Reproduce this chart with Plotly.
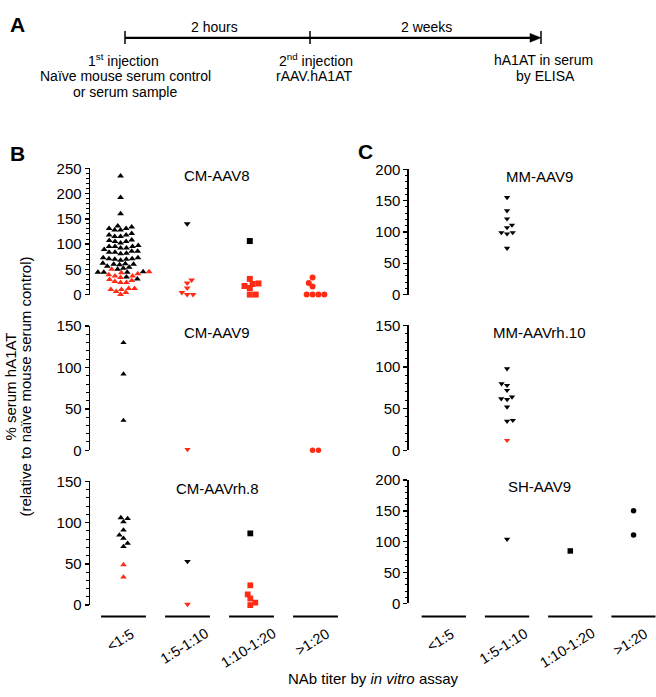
import numpy as np
import plotly.graph_objects as go

# ---------------- data ----------------
CATEGORIES = ["<1:5", "1:5-1:10", "1:10-1:20", ">1:20"]

CM_AAV8_BLACK = [
    [235, 192, 160, 136, 134, 131, 131, 128, 128, 121, 118, 118, 115, 115,
     108, 107, 105, 105, 102, 97, 95, 95, 95, 92, 92, 89, 86, 86, 84, 84, 82, 81,
     73, 73, 71, 71, 70, 70, 68, 62, 61, 60, 60, 59, 56, 54, 52, 50, 45, 44, 44,
     44, 35, 31],
    [140], [106], []]
CM_AAV8_RED = [
    [50, 45, 43, 41, 39, 37, 37, 34, 30, 28, 26, 24, 24, 12, 12, 10, 10, 6, 4, 0],
    [29, 23, 13, 4, 0, 0],
    [31, 22, 21, 17, 13, 0, 0],
    [34, 23, 16, 0, 0, 0, 0]]

CM_AAV9_BLACK = [[130, 92, 36], [], [], []]
CM_AAV9_RED = [[], [1], [], [0, 0]]

CM_AAVRH8_BLACK = [[106, 105, 101, 91, 85, 81, 75, 71], [53], [87], []]
CM_AAVRH8_RED = [[49, 34], [1], [24, 13, 8, 3, 0], []]

MM_AAV9_BLACK = [[], [155, 134, 121, 111, 107, 99, 99, 97, 74], [], []]
MM_AAV9_RED = [[], [], [], []]

MM_AAVRH10_BLACK = [[], [98, 80, 78, 72, 64, 62, 61, 52, 36, 35], [], []]
MM_AAVRH10_RED = [[], [12], [], []]

SH_AAV9_BLACK = [[], [104], [85], [150, 111]]
SH_AAV9_RED = [[], [], [], []]

PANEL_TITLES = ["CM-AAV8", "CM-AAV9", "CM-AAVrh.8", "MM-AAV9", "MM-AAVrh.10", "SH-AAV9"]
Y_MAX = [250, 150, 150, 200, 150, 200]

# ---------------- layout helpers ----------------
W, H = 656, 697
RED = "#ff2b14"
FONT = "Arial, Liberation Sans, sans-serif"
SYMBOLS = ["triangle-up", "triangle-down", "square", "circle"]


def px(x):
    return x / W


def py(y):
    return 1 - y / H


B_X = (90.2, 347.5)
B_RANGE = [-0.52, 3.5]
C_X = (409.0, 655.7)
C_RANGE = [-0.55, 3.35]
TITLE_X = [217, 217, 217, 539, 539, 539]

# (x pixel domain, x range, y top px, y bottom px, marker size)
PANEL_POS = [
    (B_X, B_RANGE, 163.3, 292.7, 6.0),
    (B_X, B_RANGE, 325.0, 452.3, 5.5),
    (B_X, B_RANGE, 484.3, 611.0, 5.8),
    (C_X, C_RANGE, 164.3, 292.7, 5.5),
    (C_X, C_RANGE, 324.3, 452.3, 5.5),
    (C_X, C_RANGE, 482.7, 609.3, 5.5),
]

PANEL_DATA = [
    (CM_AAV8_BLACK, CM_AAV8_RED),
    (CM_AAV9_BLACK, CM_AAV9_RED),
    (CM_AAVRH8_BLACK, CM_AAVRH8_RED),
    (MM_AAV9_BLACK, MM_AAV9_RED),
    (MM_AAVRH10_BLACK, MM_AAVRH10_RED),
    (SH_AAV9_BLACK, SH_AAV9_RED),
]


def swarm_offsets(vals, px_per_unit, dx_px, dy_px, cat_px):
    """Beeswarm layout: place points (ascending) at the free x closest to centre."""
    vals = np.asarray(vals, float)
    n = len(vals)
    offs = np.zeros(n)
    if n == 0:
        return offs
    order = np.argsort(vals, kind="stable")
    placed = []
    side = 1
    for idx in order:
        y = vals[idx] * px_per_unit
        forb = []
        for (xj, yj) in placed:
            d = abs(y - yj) / dy_px
            if d < 1:
                half = dx_px * np.sqrt(1 - d * d)
                forb.append((xj - half, xj + half))
        cands = [0.0] + [a for iv in forb for a in iv]
        cands = sorted(cands, key=lambda c: (round(abs(c), 6), -side * c))
        x = 0.0
        for c in cands:
            if all(not (a + 1e-6 < c < b - 1e-6) for a, b in forb):
                x = c
                break
        if x != 0:
            side = -side
        placed.append((x, y))
        offs[idx] = x
    offs = offs - (offs.max() + offs.min()) / 2
    return offs / cat_px


fig = go.Figure()
layout = dict(
    width=W, height=H,
    margin=dict(l=0, r=0, t=0, b=0),
    paper_bgcolor="white", plot_bgcolor="white",
    showlegend=False,
    font=dict(family=FONT, color="black", size=15),
)
annotations = []
shapes = []

for p in range(6):
    (xd, xr, ytop, ybot, msize) = PANEL_POS[p]
    black, red = PANEL_DATA[p]
    ymax = Y_MAX[p]
    sfx = "" if p == 0 else str(p + 1)
    xa, ya = "x" + sfx, "y" + sfx
    layout["xaxis" + sfx] = dict(
        domain=[px(xd[0]), px(xd[1])], range=xr, anchor=ya,
        showline=False, showgrid=False, zeroline=False,
        showticklabels=False, ticks="", fixedrange=True)
    layout["yaxis" + sfx] = dict(
        domain=[py(ybot), py(ytop)], range=[0, ymax], anchor=xa,
        showline=True, linecolor="black", linewidth=1.6,
        showgrid=False, zeroline=False,
        ticks="outside", ticklen=4, tickwidth=1.4, tickcolor="black",
        tick0=0, dtick=50,
        tickfont=dict(family=FONT, size=15, color="black"),
        minor=dict(ticks="outside", dtick=10, ticklen=2.5, tickwidth=1,
                   tickcolor="black"),
        fixedrange=True)

    px_per_unit = (ybot - ytop) / ymax
    cat_px = (xd[1] - xd[0]) / (xr[1] - xr[0])
    xs, ys, cols, syms = [], [], [], []
    for ci in range(len(CATEGORIES)):
        vals = list(black[ci]) + list(red[ci])
        colors = ["black"] * len(black[ci]) + [RED] * len(red[ci])
        offs = swarm_offsets(vals, px_per_unit, dx_px=5.9, dy_px=4.7, cat_px=cat_px)
        for v, c, o in zip(vals, colors, offs):
            xs.append(ci + o)
            ys.append(v)
            cols.append(c)
            syms.append(SYMBOLS[ci])
    fig.add_trace(go.Scatter(
        x=xs, y=ys, mode="markers", xaxis=xa, yaxis=ya,
        cliponaxis=False, hoverinfo="y",
        marker=dict(color=cols, symbol=syms, size=msize, line=dict(width=0))))

    annotations.append(dict(
        text=PANEL_TITLES[p], x=px(TITLE_X[p]), y=py(ytop + 7),
        xref="paper", yref="paper", showarrow=False,
        xanchor="center", yanchor="middle", font=dict(size=15)))

    if p in (2, 5):
        for ci, cat in enumerate(CATEGORIES):
            shapes.append(dict(type="line", xref=xa, yref="paper",
                               x0=ci - 0.35, x1=ci + 0.35,
                               y0=py(622.7), y1=py(622.7),
                               line=dict(color="black", width=1.8)))
            annotations.append(dict(
                text=cat, x=ci - 0.05, y=py(629), xref=xa, yref="paper",
                showarrow=False, textangle=-32, xanchor="center", yanchor="top",
                font=dict(size=14.5)))

for letter, (lx, ly) in zip(["A", "B", "C"], [(17, 16), (17, 148), (365, 146)]):
    annotations.append(dict(text="<b>%s</b>" % letter, x=px(lx), y=py(ly),
                            xref="paper", yref="paper", showarrow=False,
                            xanchor="center", yanchor="middle",
                            font=dict(size=21)))

annotations.append(dict(text="% serum hA1AT", x=px(11), y=py(387), xref="paper",
                        yref="paper", showarrow=False, textangle=-90,
                        xanchor="center", yanchor="middle", font=dict(size=15)))
annotations.append(dict(text="(relative to naïve mouse serum control)", x=px(26),
                        y=py(387), xref="paper", yref="paper", showarrow=False,
                        textangle=-90, xanchor="center", yanchor="middle",
                        font=dict(size=15)))
annotations.append(dict(text="NAb titer by <i>in vitro</i> assay", x=px(374),
                        y=py(686), xref="paper", yref="paper", showarrow=False,
                        xanchor="center", yanchor="middle", font=dict(size=15)))

# ---------------- panel A: timeline ----------------
LINE_Y = 29.5
shapes.append(dict(type="line", xref="paper", yref="paper",
                   x0=px(125), x1=px(533), y0=py(LINE_Y), y1=py(LINE_Y),
                   line=dict(color="black", width=2.2)))
shapes.append(dict(type="path", xref="paper", yref="paper",
                   path="M %f,%f L %f,%f L %f,%f Z" % (
                       px(530), py(LINE_Y - 4.5), px(541), py(LINE_Y),
                       px(530), py(LINE_Y + 4.5)),
                   fillcolor="black", line=dict(color="black", width=0.5)))
for tx in (125, 310, 541):
    shapes.append(dict(type="line", xref="paper", yref="paper",
                       x0=px(tx), x1=px(tx), y0=py(22.5), y1=py(36),
                       line=dict(color="black", width=1.5)))

A_TEXT = [
    ("2 hours", 214, 18),
    ("2 weeks", 426, 18),
    ("1<sup>st</sup> injection", 123, 52),
    ("Naïve mouse serum control", 125, 68.5),
    ("or serum sample", 125, 85),
    ("2<sup>nd</sup> injection", 316, 52),
    ("rAAV.hA1AT", 314, 68.5),
    ("hA1AT in serum", 543, 52),
    ("by ELISA", 545, 68.5),
]
for t, x, y in A_TEXT:
    annotations.append(dict(text=t, x=px(x), y=py(y), xref="paper", yref="paper",
                            showarrow=False, xanchor="center", yanchor="middle",
                            font=dict(size=14)))

layout["annotations"] = annotations
layout["shapes"] = shapes
fig.update_layout(**layout)
fig.write_html(
    "out.html",
    config={"displayModeBar": False, "staticPlot": True},
    post_script="document.body.style.margin='0';document.body.style.overflow='hidden';",
)
